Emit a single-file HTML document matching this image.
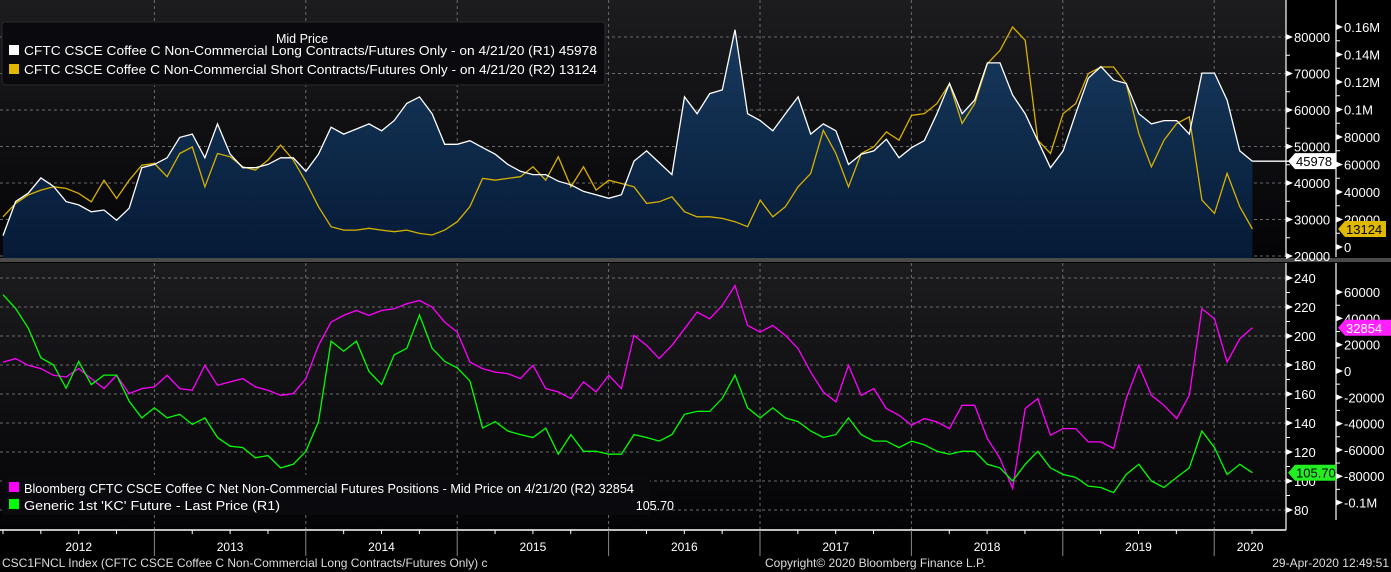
<!DOCTYPE html>
<html><head><meta charset="utf-8"><style>
html,body{margin:0;padding:0;background:#000;}
svg{display:block;font-family:"Liberation Sans",sans-serif;}
</style></head><body>
<svg id="chart" width="1391" height="572" viewBox="0 0 1391 572" xmlns="http://www.w3.org/2000/svg">
<defs>
<linearGradient id="bgG" x1="0" y1="0" x2="0" y2="1"><stop offset="0" stop-color="#1c1c1e"/><stop offset="1" stop-color="#040407"/></linearGradient>
<linearGradient id="fillG" x1="0" y1="0" x2="0" y2="1"><stop offset="0" stop-color="#183a5e"/><stop offset="1" stop-color="#051a36"/></linearGradient>
<clipPath id="clipTop"><rect x="0" y="0" width="1286" height="258"/></clipPath>
<clipPath id="clipBot"><rect x="0" y="263" width="1286" height="267"/></clipPath>
</defs>
<rect x="0" y="0" width="1391" height="572" fill="#000"/>
<rect x="0" y="0" width="1286" height="258" fill="url(#bgG)"/>
<rect x="0" y="263" width="1286" height="267" fill="url(#bgG)"/>
<rect x="0" y="258" width="1391" height="4" fill="#4a4a4a"/>
<g id="gridTop" clip-path="url(#clipTop)"></g>
<g id="gridBot" clip-path="url(#clipBot)"></g>
<g id="seriesTop" clip-path="url(#clipTop)"></g>
<g id="seriesBot" clip-path="url(#clipBot)"></g>
<g id="axes"></g>
<g>
<rect x="2" y="22" width="603" height="63" rx="3" fill="#0a0a0e" stroke="#2a2a2e"/>
<text x="302" y="43" fill="#fff" font-size="12.5" text-anchor="middle">Mid Price</text>
<rect x="9" y="45" width="10" height="10" fill="#fff"/>
<text x="24" y="55" fill="#fff" font-size="12.5" textLength="573" lengthAdjust="spacingAndGlyphs">CFTC CSCE Coffee C Non-Commercial Long Contracts/Futures Only -  on 4/21/20  (R1)  45978</text>
<rect x="9" y="64" width="10" height="10" fill="#e0b800"/>
<text x="24" y="74" fill="#fff" font-size="12.5" textLength="573" lengthAdjust="spacingAndGlyphs">CFTC CSCE Coffee C Non-Commercial Short Contracts/Futures Only -  on 4/21/20  (R2) 13124</text>
</g>
<g>
<rect x="2" y="475" width="648" height="40" fill="#0a0a0e"/>
<rect x="9" y="482" width="10" height="10" fill="#ff00ff"/>
<text x="24" y="493" fill="#fff" font-size="12.5" textLength="610" lengthAdjust="spacingAndGlyphs">Bloomberg CFTC CSCE Coffee C Net Non-Commercial Futures Positions - Mid Price on 4/21/20 (R2) 32854</text>
<rect x="9" y="499" width="10" height="10" fill="#00ff00"/>
<text x="24" y="510" fill="#fff" font-size="12.5" textLength="256" lengthAdjust="spacingAndGlyphs">Generic 1st 'KC' Future - Last Price (R1)</text>
<text x="674" y="510" fill="#fff" font-size="12.5" text-anchor="end">105.70</text>
</g>
<text x="2" y="567" fill="#ddd" font-size="12">CSC1FNCL Index (CFTC CSCE Coffee C Non-Commercial Long Contracts/Futures Only) c</text>
<text x="765" y="567" fill="#ddd" font-size="12">Copyright© 2020 Bloomberg Finance L.P.</text>
<text x="1389" y="567" fill="#ddd" font-size="12" text-anchor="end">29-Apr-2020 12:49:51</text>
</svg>
<script>
const longVals=[25600,34900,37200,41400,39100,34900,34000,32100,32600,29800,33100,44200,45100,46900,52500,53400,46900,56200,47900,44200,44200,45100,46900,46900,43200,47900,55300,53400,54800,56200,54300,57100,61800,63600,59000,50600,50600,51600,49700,47900,45100,43200,42300,42300,40500,39500,37700,36800,35800,36800,46000,48800,45600,42300,63600,59000,64500,65500,82000,59000,57100,54300,59000,63600,53400,56200,54300,45100,47900,48800,52000,46900,49700,51600,59000,67300,59000,62700,72900,72900,64100,59000,51600,44200,48800,59000,68700,71900,68200,67300,59000,56200,57100,57100,53400,70100,70100,62700,48800,45978];
const shortVals=[22000,31700,37800,41400,43800,42600,39000,32900,48600,35300,48600,59500,60700,51100,68000,72800,43800,68000,65600,58300,55900,63200,74100,63200,47400,29300,14800,12300,12300,13600,12300,11100,12300,9900,8700,12300,18400,29300,49900,48600,49900,51100,58300,48600,65600,43800,58300,41400,48600,46200,43800,31700,32900,36500,25700,22000,22000,20800,18400,14800,34100,22000,29300,43800,53500,84900,68000,43800,68000,72800,83700,77700,95800,97000,104300,118800,89800,104300,133300,143000,160000,150300,77700,68000,97000,104300,126100,130900,130900,118800,82500,58300,77700,89800,94600,34100,24400,53500,29300,13124];
const priceVals=[228.5,219,205.5,185,180,164,182.5,166.5,173,173,155,143.5,150.5,143.5,146,139,143.5,130,124,123,116,117.5,109,111.5,120.5,141,196.5,189.5,196.5,175.5,166.5,187,191.5,214.5,191.5,182.5,178,169,136.5,141,134.5,132,130,136.5,118.5,132,120.5,120.5,118.5,118.5,132,130,127.5,132,146,148,148,157,173,150.5,143.5,150.5,143.5,141,134.5,130,132,143.5,132,127.5,127.5,123,127.5,125,120.5,118.5,120.5,120.5,111.5,109,100,111.5,120.5,109,104.5,102.5,96.5,95.5,92,104.5,111.5,100,95.5,102.5,109,134.5,123,104.5,111.5,105.7];
const netVals=[6800,9400,4300,1800,-3300,-4600,1800,-5800,-13400,-3300,-17200,-13400,-12100,-3300,-13400,-14700,4300,-10900,-8300,-5800,-12100,-14700,-18500,-17200,-5800,19500,37200,42300,46000,42300,46000,47300,51100,53600,48600,37200,29600,6800,1800,-800,-2000,-5800,4300,-13400,-15900,-21000,-8300,-15900,-3300,-13400,27100,19500,9400,19500,32100,44800,39700,49800,65000,34700,29600,34700,27100,17000,-800,-15900,-23500,4300,-18500,-13400,-28600,-33600,-41200,-36200,-38700,-43800,-26100,-26100,-51400,-66500,-89300,-28600,-21000,-48800,-43800,-43800,-53900,-53900,-58900,-21000,4300,-18500,-26100,-36200,-18500,47300,39700,6800,24500,32854];
const years=['2012','2013','2014','2015','2016','2017','2018','2019','2020'];
const topLTicks=[20000,30000,40000,50000,60000,70000,80000];
const topRTicks=[0,20000,40000,60000,80000,100000,120000,140000,160000];
const topRLabels=['0','20000','40000','60000','80000','0.1M','0.12M','0.14M','0.16M'];
const botLTicks=[80,100,120,140,160,180,200,220,240];
const botRTicks=[-100000,-80000,-60000,-40000,-20000,0,20000,40000,60000];
const botRLabels=['-0.1M','-80000','-60000','-40000','-20000','0','20000','40000','60000'];

const NS='http://www.w3.org/2000/svg';
const X=m=>3+12.62*m;
const YB=y=>3+151.4*y;
const yL=v=>256-(v-20000)/10000*36.5;
const yS=v=>247-v/20000*27.5;
const yP=p=>510-(p-80)/20*29;
const yN=n=>371-n/20000*26.3;
function mk(tag,attrs,parent){const e=document.createElementNS(NS,tag);for(const k in attrs)e.setAttribute(k,attrs[k]);parent.appendChild(e);return e;}
const gT=document.getElementById('gridTop'),gB=document.getElementById('gridBot');
const sT=document.getElementById('seriesTop'),sB=document.getElementById('seriesBot');
const ax=document.getElementById('axes');
topLTicks.forEach(v=>{const l=mk('line',{x1:0,x2:1286,y1:yL(v),y2:yL(v),stroke:'#6a6a6a','stroke-dasharray':'3,3','stroke-width':1},gT);

});
botLTicks.forEach(v=>{const l=mk('line',{x1:0,x2:1286,y1:yP(v),y2:yP(v),stroke:'#6a6a6a','stroke-dasharray':'3,3','stroke-width':1},gB);

});
for(let i=1;i<years.length;i++){
 [[gT,0,258],[gB,263,530]].forEach(([g,a,b])=>{const l=mk('line',{x1:YB(i),x2:YB(i),y1:a,y2:b,stroke:'#6a6a6a','stroke-dasharray':'3,3','stroke-width':1},g);
 
 });
}
function pts(vals,yf){return vals.map((v,i)=>X(i).toFixed(1)+','+yf(v).toFixed(1));}
const lp=pts(longVals,yL);
const area=mk('polygon',{points:X(0)+',258 '+lp.join(' ')+' '+X(longVals.length-1)+',258',fill:'url(#fillG)'},sT);


const sl=mk('polyline',{points:pts(shortVals,yS).join(' '),fill:'none',stroke:'#d8b000','stroke-width':1.3},sT);


const ll=mk('polyline',{points:lp.join(' '),fill:'none',stroke:'#fff','stroke-width':1.3},sT);


const lastL=longVals[longVals.length-1];
const ext=mk('line',{x1:X(longVals.length-1),x2:1290,y1:yL(lastL),y2:yL(lastL),stroke:'#fff','stroke-width':1.3},ax);


const nl=mk('polyline',{points:pts(netVals,yN).join(' '),fill:'none',stroke:'#ff00ff','stroke-width':1.3},sB);


const pl=mk('polyline',{points:pts(priceVals,yP).join(' '),fill:'none',stroke:'#00ff00','stroke-width':1.3},sB);


[[1286,0,257],[1336,0,257],[1286,263,530],[1336,263,520]].forEach(([x,a,b])=>{const l=mk('line',{x1:x,x2:x,y1:a,y2:b,stroke:'#fff','stroke-width':1.2},ax);

});
function tickSet(vals,labels,yf,x,nameBase){
 vals.forEach((v,i)=>{const y=yf(v);
  mk('polygon',{points:(x)+','+(y-3)+' '+(x+7)+','+y+' '+(x)+','+(y+3),fill:'#fff'},ax);
  const t=mk('text',{x:x+8,y:y+5,fill:'#fff','font-size':13},ax);t.textContent=labels[i];
  
  
  if(i<vals.length-1){const ym=(y+yf(vals[i+1]))/2;mk('line',{x1:x,x2:x+4,y1:ym,y2:ym,stroke:'#fff'},ax);}
 });
}
tickSet(topLTicks,topLTicks.map(String),yL,1286,'top-left-axis');
tickSet(topRTicks,topRLabels,yS,1336,'top-right-axis');
tickSet(botLTicks,botLTicks.map(String),yP,1286,'bottom-left-axis');
tickSet(botRTicks,botRLabels,yN,1336,'bottom-right-axis');
function tag(x,y,w,color,txtColor,text,name){
 const g=mk('g',{},ax);
 
 
 mk('polygon',{points:x+','+y+' '+(x+7)+','+(y-8)+' '+(x+w)+','+(y-8)+' '+(x+w)+','+(y+8)+' '+(x+7)+','+(y+8),fill:color},g);
 const t=mk('text',{x:x+8,y:y+5,fill:txtColor,'font-size':13},g);t.textContent=text;
}
tag(1288,yL(lastL),48,'#fff','#000','45978','long-value-tag');
tag(1338,yS(shortVals[shortVals.length-1]),48,'#e0b800','#000','13124','short-value-tag');
tag(1338,yN(netVals[netVals.length-1]),53,'#ff20ff','#fff','32854','net-value-tag');
tag(1288,yP(priceVals[priceVals.length-1]),48,'#22ee22','#000','105.70','price-value-tag');
const xl=mk('line',{x1:0,x2:1286,y1:530,y2:530,stroke:'#fff','stroke-width':1.5},ax);


for(let q=0;q<34;q++){const x=YB(q/4);if(x>1286)break;
 if(q%4===0&&q>0){mk('line',{x1:x,x2:x,y1:530,y2:556,stroke:'#888'},ax);}
 else mk('line',{x1:x,x2:x,y1:530,y2:534,stroke:'#fff'},ax);}
years.forEach((y,i)=>{const x0=YB(i),x1=Math.min(YB(i+1),1286);
 const t=mk('text',{x:(x0+x1)/2,y:551,fill:'#fff','font-size':12,'text-anchor':'middle'},ax);t.textContent=y;
 
 });
</script>
</body></html>
